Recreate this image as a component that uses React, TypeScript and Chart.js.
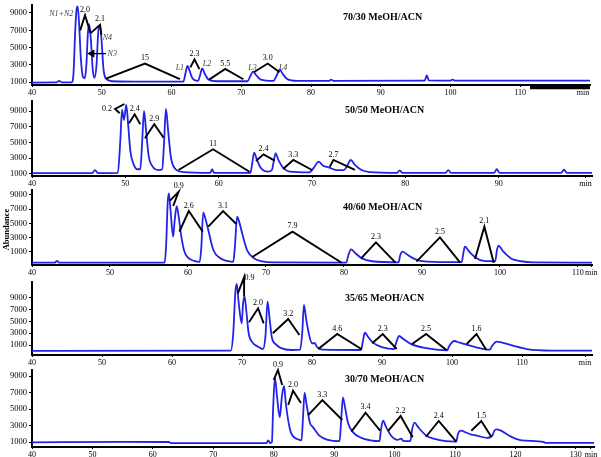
import React, { useEffect, useRef } from "react";
import { Chart, registerables } from "chart.js";

Chart.register(...registerables);

const SERIF = "'Liberation Serif', 'Times New Roman', Times, serif";
const BLUE = "#2222e8";
const W = 601;
const H = 457;
const XAH = 10;

const yTickValues = [1000, 3000, 5000, 7000, 9000];

// ---------- Panel 1: 70/30 MeOH/ACN ----------
const p1Title = "70/30 MeOH/ACN";
const p1XTicks = [40, 50, 60, 70, 80, 90, 100, 110, 119];
const p1XLabels = ["40", "50", "60", "70", "80", "90", "100", "110", "min"];
const p1Trace = [
  [40, 950], [43.5, 960], [43.9, 1150], [44.3, 970], [45.7, 980], [45.95, 2000], [46.2, 7000], [46.4, 9500], [46.55, 9750],
  [46.75, 7800], [47.0, 3800], [47.3, 1600], [47.55, 1450], [47.8, 3000], [48.0, 6500], [48.2, 7700],
  [48.45, 5800], [48.7, 2500], [48.95, 1500], [49.25, 3000], [49.5, 6800], [49.75, 7600], [50.0, 5500],
  [50.25, 2500], [50.6, 1400], [51.5, 1100], [56, 1050], [61.7, 1050], [62.0, 2000], [62.3, 2890],
  [62.6, 2300], [63.0, 1450], [63.8, 1150], [64.1, 1800], [64.4, 2590], [64.75, 2000], [65.3, 1300],
  [66.5, 1100], [70.9, 1100], [71.3, 1700], [71.7, 2220], [72.1, 1850], [72.8, 1300], [74.6, 1150],
  [75.1, 1800], [75.5, 2480], [75.9, 2000], [76.6, 1350], [78, 1150], [82.6, 1150], [82.9, 1280],
  [83.2, 1150], [96.3, 1180], [96.6, 1780], [96.9, 1200], [100.0, 1180], [100.3, 1300], [100.6, 1180],
  [120, 1180],
];
const p1MarkLabels = ["2.0", "2.1", "15", "2.3", "5.5", "3.0"];
const p1MarkPts = [
  [[46.9, 6970], [47.6, 8745], [48.4, 6667]],
  [[48.4, 6667], [49.75, 7630], [49.95, 6500]],
  [[50.6, 1410], [56.2, 3145], [61.2, 1334]],
  [[62.7, 2700], [63.3, 3630], [64.0, 2510]],
  [[65.4, 1290], [67.7, 2520], [70.3, 1330]],
  [[71.8, 2150], [73.8, 3150], [75.5, 2150]],
];
const p1PeakNames = ["N1+N2", "N3", "N4", "L1", "L2", "L3", "L4"];
const p1PeakNameAt = [[44.2, 8920], [51.5, 4300], [50.8, 6110], [61.2, 2670], [65.1, 3110], [71.6, 2670], [76.0, 2670]];
const p1Arrow = [[50.6, 4300], [48.6, 4300]];
const p1AxisBar = [[111.4, 390], [120, 390]];

// ---------- Panel 2: 50/50 MeOH/ACN ----------
const p2Title = "50/50 MeOH/ACN";
const p2XTicks = [40, 50, 60, 70, 80, 90, 99.3];
const p2XLabels = ["40", "50", "60", "70", "80", "90", "min"];
const p2Trace = [
  [40, 1100], [46.45, 1100], [46.75, 1500], [47.05, 1120], [49.2, 1150], [49.45, 5000], [49.65, 9130],
  [49.85, 7860], [50.1, 9760], [50.3, 7300], [50.55, 3800], [50.9, 2200], [51.3, 1600], [51.6, 1600],
  [51.8, 5000], [52.0, 9000], [52.2, 6800], [52.5, 3300], [52.9, 2000], [53.5, 1500], [53.95, 1600],
  [54.15, 5000], [54.35, 9260], [54.6, 6300], [54.9, 3000], [55.4, 1600], [56.2, 1250], [59.1, 1150],
  [59.3, 1630], [59.5, 1150], [63.4, 1150], [63.6, 2400], [63.8, 3700], [64.1, 2800], [64.5, 1800],
  [65.3, 1300], [65.7, 1500], [65.9, 2600], [66.1, 3630], [66.4, 2800], [66.9, 1800], [67.6, 1300],
  [69.7, 1200], [70.2, 1800], [70.7, 2560], [71.2, 2050], [71.8, 1850], [72.6, 1500], [73.4, 1500],
  [73.75, 2000], [74.15, 2780], [74.6, 2150], [75.3, 1500], [76.2, 1250], [79.1, 1150], [79.4, 1450],
  [79.7, 1150], [84.3, 1150], [84.6, 1500], [84.9, 1150], [89.5, 1150], [89.8, 1600], [90.1, 1150],
  [96.7, 1150], [97.0, 1550], [97.3, 1150], [100, 1150],
];
const p2MarkLabels = ["0.2", "2.4", "2.9", "11", "2.4", "3.3", "2.7"];
const p2MarkSides = ["left", "top", "top", "top", "top", "top", "top"];
const p2MarkPts = [
  [[49.4, 8710], [48.9, 9260], [49.9, 9890]],
  [[50.4, 7440], [51.0, 8580], [51.6, 7310]],
  [[52.1, 5530], [53.1, 7310], [54.1, 5610]],
  [[55.7, 1510], [59.4, 4140], [63.3, 1290]],
  [[64.0, 2650], [64.8, 3500], [66.0, 2690]],
  [[66.9, 1640], [68.0, 2780], [70.0, 1510]],
  [[71.9, 1930], [72.3, 2780], [74.6, 1510]],
];

// ---------- Panel 3: 40/60 MeOH/ACN ----------
const p3Title = "40/60 MeOH/ACN";
const p3XTicks = [40, 50, 60, 70, 80, 90, 100, 110, 111.7];
const p3XLabels = ["40", "50", "60", "70", "80", "90", "100", "110", "min"];
const p3Trace = [
  [40, -500], [42.9, -500], [43.2, -250], [43.5, -500], [57.0, -480], [57.2, 2000], [57.4, 8000],
  [57.55, 9240], [57.75, 7000], [58.1, 3150], [58.3, 5500], [58.55, 7450], [58.8, 6000], [59.1, 3500],
  [59.5, 1200], [60.0, 200], [60.8, -250], [61.5, -380], [61.7, 1500], [61.95, 6510], [62.2, 5800],
  [62.6, 4090], [63.25, 1280], [64.1, 157], [65.0, -250], [65.8, -400], [66.0, 1500], [66.3, 5950],
  [66.55, 5300], [66.95, 3600], [67.6, 1200], [68.5, 100], [69.5, -300], [71, -450], [80.3, -480],
  [80.55, 500], [80.9, 1380], [81.4, 900], [82.3, 100], [83.6, -300], [87.0, -450], [87.2, 500],
  [87.5, 1040], [88.1, 650], [89.1, 0], [90.6, -350], [95.1, -430], [95.3, 800], [95.5, 1740],
  [96.1, 1000], [96.9, 200], [97.9, -250], [99.4, -300], [99.6, 1200], [99.8, 1890], [100.4, 1100],
  [101.4, 100], [102.7, -300], [104.2, -460], [111.8, -480],
];
const p3MarkLabels = ["0.9", "2.6", "3.1", "7.9", "2.3", "2.5", "2.1"];
const p3MarkPts = [
  [[57.7, 8200], [58.8, 9460], [58.1, 7450]],
  [[58.9, 3850], [60.1, 6750], [61.9, 3850]],
  [[62.6, 4550], [64.5, 6750], [66.2, 4930]],
  [[68.2, 255], [73.4, 3850], [79.7, -500]],
  [[82.2, 115], [84.1, 2360], [86.6, -500]],
  [[89.3, -360], [92.3, 3060], [94.9, -500]],
  [[96.8, 17], [98.0, 4550], [99.2, -500]],
];

// ---------- Panel 4: 35/65 MeOH/ACN ----------
const p4Title = "35/65 MeOH/ACN";
const p4XTicks = [40, 50, 60, 70, 80, 90, 100, 110, 119];
const p4XLabels = ["40", "50", "60", "70", "80", "90", "100", "110", "min"];
const p4Trace = [
  [40, 0], [68.4, 50], [68.75, 3000], [69.05, 10000], [69.25, 11380], [69.5, 8500], [69.95, 4690],
  [70.15, 8000], [70.35, 9340], [70.6, 7000], [70.95, 3000], [71.45, 1500], [72.3, 710], [73.0, 300],
  [73.35, 2500], [73.65, 8370], [73.9, 6000], [74.25, 2410], [74.85, 1100], [75.6, 460], [77.0, 150],
  [78.3, 200], [78.6, 3000], [78.85, 7810], [79.15, 5500], [79.65, 2400], [80.0, 1300], [80.4, 1300],
  [80.7, 700], [81.6, 200], [87.0, 150], [87.25, 1500], [87.55, 3090], [87.95, 2500], [88.7, 1400],
  [90.1, 600], [91.7, 300], [92.05, 1500], [92.45, 2530], [92.95, 2100], [94.1, 1200], [96.1, 500],
  [99.3, 100], [99.6, 800], [100.3, 1680], [101.1, 1400], [102.6, 900], [104.6, 300], [105.4, 200],
  [105.7, 800], [106.4, 1560], [107.2, 1400], [108.7, 900], [110.7, 300], [114.2, 50], [120, 50],
];
const p4MarkLabels = ["0.9", "2.0", "3.2", "4.6", "2.3", "2.5", "1.6"];
const p4MarkSides = ["right", "top", "top", "top", "top", "top", "top"];
const p4MarkPts = [
  [[69.4, 9800], [70.3, 12520], [70.3, 9300]],
  [[71.0, 4860], [72.3, 7240], [73.1, 4690]],
  [[74.4, 2990], [76.6, 5420], [78.2, 2700]],
  [[80.9, 320], [83.6, 2870], [87.1, 270]],
  [[88.6, 1290], [90.1, 2870], [92.1, 320]],
  [[94.3, 1170], [96.3, 2870], [99.2, 150]],
  [[102.1, 1170], [103.5, 2870], [104.9, 150]],
];

// ---------- Panel 5: 30/70 MeOH/ACN ----------
const p5Title = "30/70 MeOH/ACN";
const p5XTicks = [40, 50, 60, 70, 80, 90, 100, 110, 120, 130, 132.5];
const p5XLabels = ["40", "50", "60", "70", "80", "90", "100", "110", "120", "130", "min"];
const p5Trace = [
  [40, 950], [55, 1020], [62.7, 1000], [62.9, 880], [78.8, 870], [79.1, 1200], [79.4, 880], [79.7, 1000],
  [79.9, 5000], [80.2, 8840], [80.55, 6500], [81.0, 3990], [81.35, 6500], [81.7, 7790], [82.0, 5700],
  [82.5, 3200], [82.9, 2050], [84.1, 1300], [84.6, 1200], [84.85, 4000], [85.1, 6980], [85.4, 5700],
  [86.0, 3300], [86.5, 2800], [87.5, 1800], [89, 1250], [90.9, 1100], [91.15, 3500], [91.45, 6420], [91.8, 5200],
  [92.3, 3300], [93.1, 2200], [94.5, 1500], [96, 1200], [97.5, 1100], [97.75, 2500], [98.1, 3580], [98.6, 2800],
  [99.5, 1700], [100.5, 1250], [101.1, 1400], [101.4, 1150], [102.6, 1100], [102.9, 2500], [103.3, 3340],
  [103.9, 2800], [105.2, 1800], [106.5, 1400], [108.5, 1100], [110.2, 1050], [110.5, 2000], [111.0, 2370], [111.8, 2150],
  [112.7, 1900], [113.5, 1800], [115.3, 1500], [116.2, 1800], [116.5, 2350], [116.9, 2540], [117.6, 2380],
  [119, 1750], [121, 1200], [124.7, 1000], [124.9, 900], [133, 900],
];
const p5MarkLabels = ["0.9", "2.0", "3.3", "3.4", "2.2", "2.4", "1.5"];
const p5MarkPts = [
  [[80.0, 8520], [80.7, 9730], [81.4, 7910]],
  [[82.4, 5490], [83.2, 7220], [84.5, 5730]],
  [[85.7, 4270], [88.05, 6090], [91.35, 3670]],
  [[92.85, 2250], [95.2, 4550], [97.6, 2370]],
  [[98.9, 2330], [101.0, 4150], [103.0, 1570]],
  [[105.2, 1640], [107.3, 3550], [110.2, 1040]],
  [[112.7, 2370], [114.35, 3550], [116.0, 1640]],
];

// ---------- layout (pixel geometry of each panel) ----------
const panelLayouts = [
  { xMin: 40, xMax: 120, yMin: 667, yMax: 9890, top: 2, bottom: 85, right: 590, titleX: 343, titleY: 17 },
  { xMin: 40, xMax: 100, yMin: 746, yMax: 10270, top: 101, bottom: 176, right: 592, titleX: 345, titleY: 110 },
  { xMin: 40, xMax: 111.8, yMin: -825, yMax: 9700, top: 190, bottom: 265, right: 592, titleX: 343, titleY: 207 },
  { xMin: 40, xMax: 120, yMin: -700, yMax: 11720, top: 282, bottom: 355, right: 592, titleX: 345, titleY: 298 },
  { xMin: 40, xMax: 133, yMin: 394, yMax: 9730, top: 370, bottom: 447, right: 594, titleX: 345, titleY: 379 },
];

type Pt = number[];
type PanelCfg = {
  title: string;
  xTicks: number[];
  xLabels: string[];
  trace: Pt[];
  markLabels: string[];
  markSides?: string[];
  markPts: Pt[][];
  names?: string[];
  nameAt?: Pt[];
  arrow?: Pt[];
  axisBar?: Pt[];
  yTitle?: boolean;
};

const panels: PanelCfg[] = [
  { title: p1Title, xTicks: p1XTicks, xLabels: p1XLabels, trace: p1Trace, markLabels: p1MarkLabels, markPts: p1MarkPts,
    names: p1PeakNames, nameAt: p1PeakNameAt, arrow: p1Arrow, axisBar: p1AxisBar },
  { title: p2Title, xTicks: p2XTicks, xLabels: p2XLabels, trace: p2Trace, markLabels: p2MarkLabels, markSides: p2MarkSides, markPts: p2MarkPts },
  { title: p3Title, xTicks: p3XTicks, xLabels: p3XLabels, trace: p3Trace, markLabels: p3MarkLabels, markPts: p3MarkPts, yTitle: true },
  { title: p4Title, xTicks: p4XTicks, xLabels: p4XLabels, trace: p4Trace, markLabels: p4MarkLabels, markSides: p4MarkSides, markPts: p4MarkPts },
  { title: p5Title, xTicks: p5XTicks, xLabels: p5XLabels, trace: p5Trace, markLabels: p5MarkLabels, markPts: p5MarkPts },
];

const toXY = (arr: Pt[]) => arr.map(([x, y]) => ({ x, y }));

function Panel({ cfg, lay }: { cfg: PanelCfg; lay: any }) {
  const ref = useRef<HTMLCanvasElement>(null);
  useEffect(() => {
    const canvas = ref.current;
    if (!canvas) return;
    const datasets: any[] = [];
    cfg.markPts.forEach((m) => {
      datasets.push({ data: toXY(m), borderColor: "#000", borderWidth: 1.9, pointRadius: 0, tension: 0, clip: false, order: 0 });
    });
    if (cfg.arrow) {
      datasets.push({
        data: toXY(cfg.arrow), borderColor: "#000", borderWidth: 1.3, pointRadius: [0, 3.5], pointStyle: "triangle",
        rotation: -90, pointBackgroundColor: "#000", pointBorderColor: "#000", clip: false, order: 0,
      });
    }
    if (cfg.axisBar) {
      datasets.push({ data: toXY(cfg.axisBar), borderColor: "#000", borderWidth: 3.5, pointRadius: 0, clip: false, order: 0 });
    }
    datasets.push({
      data: toXY(cfg.trace), borderColor: BLUE, borderWidth: 1.8, pointRadius: 0,
      cubicInterpolationMode: "monotone", order: 1,
    });

    const textPlugin = {
      id: "panelText",
      afterDraw(chart: any) {
        const ctx = chart.ctx;
        const xs = chart.scales.x;
        const ys = chart.scales.y;
        ctx.save();
        ctx.fillStyle = "#000";
        ctx.font = `8px ${SERIF}`;
        cfg.markLabels.forEach((lab, i) => {
          const [t, v] = cfg.markPts[i][1];
          const px = xs.getPixelForValue(t);
          const py = ys.getPixelForValue(v);
          const side = (cfg.markSides && cfg.markSides[i]) || "top";
          if (side === "left") {
            ctx.textAlign = "right"; ctx.textBaseline = "middle"; ctx.fillText(lab, px - 3, py);
          } else if (side === "right") {
            ctx.textAlign = "left"; ctx.textBaseline = "middle"; ctx.fillText(lab, px + 0.5, py + 0.5);
          } else {
            ctx.textAlign = "center"; ctx.textBaseline = "bottom"; ctx.fillText(lab, px, py - 1.5);
          }
        });
        if (cfg.names && cfg.nameAt) {
          ctx.font = `italic 8px ${SERIF}`;
          ctx.fillStyle = "#444";
          ctx.textAlign = "center";
          ctx.textBaseline = "middle";
          cfg.names.forEach((n, i) => {
            const [t, v] = cfg.nameAt![i];
            ctx.fillText(n, xs.getPixelForValue(t), ys.getPixelForValue(v));
          });
        }
        ctx.fillStyle = "#000";
        ctx.font = `bold 10px ${SERIF}`;
        ctx.textAlign = "left";
        ctx.textBaseline = "middle";
        ctx.fillText(cfg.title, lay.titleX, lay.titleY);
        if (cfg.yTitle) {
          ctx.translate(6.5, 229.5);
          ctx.rotate(-Math.PI / 2);
          ctx.font = `bold 8.5px ${SERIF}`;
          ctx.textAlign = "center";
          ctx.fillText("Abundance", 0, 0);
        }
        ctx.restore();
      },
    };

    const chart = new Chart(canvas, {
      type: "line",
      data: { datasets },
      options: {
        responsive: false,
        maintainAspectRatio: false,
        animation: false,
        devicePixelRatio: 1,
        events: [],
        layout: { padding: { left: 0, right: W - lay.right, top: lay.top, bottom: H - lay.bottom - XAH } },
        plugins: { legend: { display: false }, tooltip: { enabled: false } },
        scales: {
          x: {
            type: "linear",
            min: lay.xMin,
            max: lay.xMax,
            afterBuildTicks: (s: any) => { s.ticks = cfg.xTicks.map((v) => ({ value: v })); },
            afterFit: (s: any) => { s.height = XAH; s.paddingLeft = 0; s.paddingRight = 0; },
            ticks: {
              callback: (_v: any, i: number) => cfg.xLabels[i],
              font: { family: SERIF, size: 8 },
              color: "#000",
              padding: 1,
              autoSkip: false,
              maxRotation: 0,
              minRotation: 0,
            },
            grid: { drawOnChartArea: false, drawTicks: true, tickLength: 2, color: "#000", lineWidth: 1 },
            border: { display: true, color: "#000", width: 2 },
          },
          y: {
            type: "linear",
            min: lay.yMin,
            max: lay.yMax,
            afterBuildTicks: (s: any) => { s.ticks = yTickValues.map((v) => ({ value: v })); },
            afterFit: (s: any) => { s.width = 32; s.paddingTop = 0; s.paddingBottom = 0; },
            ticks: {
              callback: (v: any) => String(v),
              font: { family: SERIF, size: 8.5 },
              color: "#000",
              padding: 2,
              autoSkip: false,
            },
            grid: { drawOnChartArea: false, drawTicks: true, tickLength: 3, color: "#000", lineWidth: 1 },
            border: { display: true, color: "#000", width: 2 },
          },
        },
      } as any,
      plugins: [textPlugin],
    });
    return () => chart.destroy();
  }, [cfg, lay]);
  return (
    <canvas
      ref={ref}
      width={W}
      height={H}
      style={{ position: "absolute", left: 0, top: 0, width: W, height: H }}
    />
  );
}

export default function App() {
  return (
    <div style={{ position: "absolute", left: 0, top: 0, width: W, height: H, background: "#fff", overflow: "hidden" }}>
      {panels.map((p, i) => (
        <Panel key={i} cfg={p} lay={panelLayouts[i]} />
      ))}
    </div>
  );
}
